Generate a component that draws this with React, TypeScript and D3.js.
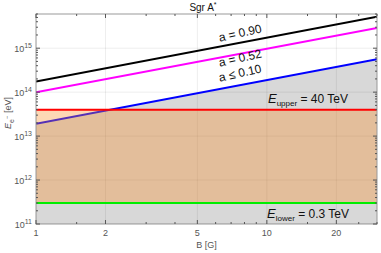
import React from "react";
import * as d3 from "d3";

// B field range [G]
const bField = [1, 30];

// max electron energies [eV] for the spin values
const eA090 = [1.75e14, 5.2e15];
const eA052 = [1.0e14, 2.9e15];
const eA010 = [1.9e13, 5.6e14];

// energy limits [eV]
const eUpper = 4e13;
const eLower = 3e11;

const xMajor = [1, 2, 5, 10, 20];
const xMinor = [1.5, 3, 4, 6, 7, 8, 9, 15, 25, 30];
const yMajor = [1e11, 1e12, 1e13, 1e14, 1e15];

const W = 381;
const H = 253;
const m = { left: 36, right: 4, top: 14, bottom: 29 };

export default function App() {
  const x = d3.scaleLog().domain([1, 30]).range([m.left, W - m.right]);
  const y = d3.scaleLog().domain([1e11, 6e15]).range([H - m.bottom, m.top]);

  const [x0, x1] = x.range();
  const [yb, yt] = y.range();

  const line = d3
    .line<number>()
    .x((d, i) => x(bField[i]))
    .y((d) => y(d));

  // grey area below the a<=0.10 curve
  const grey = d3
    .area<number>()
    .x((d, i) => x(bField[i]))
    .y0(yb)
    .y1((d) => y(d));

  // minor log ticks on y
  const yMinor: number[] = [];
  for (let k = 11; k <= 15; k++) {
    for (let j = 2; j <= 9; j++) {
      const v = j * Math.pow(10, k);
      if (v <= 6e15) yMinor.push(v);
    }
  }

  const font = "'Liberation Sans', Arial, sans-serif";
  const tickCol = "#555";

  return (
    <svg
      width={W}
      height={H}
      style={{ position: "absolute", left: 0, top: 0, background: "#fff" }}
      fontFamily={font}
    >
      <defs>
        <clipPath id="plot">
          <rect x={x0} y={yt} width={x1 - x0} height={yb - yt} />
        </clipPath>
      </defs>

      <g clipPath="url(#plot)">
        <path d={grey(eA010) || ""} fill="#d8d8d8" />

        {/* grid */}
        {xMajor.map((v) => (
          <line key={"gx" + v} x1={x(v)} x2={x(v)} y1={yt} y2={yb} stroke="#000" strokeOpacity={0.07} />
        ))}
        {yMajor.map((v) => (
          <line key={"gy" + v} x1={x0} x2={x1} y1={y(v)} y2={y(v)} stroke="#000" strokeOpacity={0.07} />
        ))}

        <path d={line(eA090) || ""} fill="none" stroke="#000" strokeWidth={2} />
        <path d={line(eA052) || ""} fill="none" stroke="#ff00ff" strokeWidth={2} />
        <path d={line(eA010) || ""} fill="none" stroke="#0000ff" strokeWidth={2} />

        {/* allowed band between the energy limits */}
        <rect
          x={x0}
          y={y(eUpper)}
          width={x1 - x0}
          height={y(eLower) - y(eUpper)}
          fill="rgb(249,140,37)"
          fillOpacity={0.34}
        />

        <line x1={x0} x2={x1} y1={y(eUpper)} y2={y(eUpper)} stroke="#ff0000" strokeWidth={2} />
        <line x1={x0} x2={x1} y1={y(eLower)} y2={y(eLower)} stroke="#00ee00" strokeWidth={2} />
      </g>

      {/* frame */}
      <rect x={x0} y={yt} width={x1 - x0} height={yb - yt} fill="none" stroke="#999" strokeWidth={1} />

      {/* x ticks bottom and top */}
      {xMajor.map((v) => (
        <g key={"xt" + v}>
          <line x1={x(v)} x2={x(v)} y1={yb} y2={yb - 4} stroke={tickCol} />
          <line x1={x(v)} x2={x(v)} y1={yt} y2={yt + 4} stroke={tickCol} />
          <text x={x(v)} y={yb + 12} fontSize={9} fill={tickCol} textAnchor="middle">
            {v}
          </text>
        </g>
      ))}
      {xMinor.map((v) => (
        <g key={"xm" + v}>
          <line x1={x(v)} x2={x(v)} y1={yb} y2={yb - 2} stroke={tickCol} />
          <line x1={x(v)} x2={x(v)} y1={yt} y2={yt + 2} stroke={tickCol} />
        </g>
      ))}

      {/* y ticks left and right */}
      {yMajor.map((v) => {
        const k = Math.round(Math.log10(v));
        return (
          <g key={"yt" + v}>
            <line x1={x0} x2={x0 + 4} y1={y(v)} y2={y(v)} stroke={tickCol} />
            <line x1={x1} x2={x1 - 4} y1={y(v)} y2={y(v)} stroke={tickCol} />
            <text x={x0 - 4} y={y(v) + 3.5} fontSize={9} fill={tickCol} textAnchor="end">
              10
              <tspan fontSize={7} dy={-4}>
                {k}
              </tspan>
            </text>
          </g>
        );
      })}
      {yMinor.map((v) => (
        <g key={"ym" + v}>
          <line x1={x0} x2={x0 + 2} y1={y(v)} y2={y(v)} stroke={tickCol} />
          <line x1={x1} x2={x1 - 2} y1={y(v)} y2={y(v)} stroke={tickCol} />
        </g>
      ))}

      {/* titles */}
      <text x={203} y={11} fontSize={10} textAnchor="middle" fill="#111">
        Sgr A
        <tspan fontSize={7} dy={-4}>
          *
        </tspan>
      </text>
      <text x={(x0 + x1) / 2} y={248} fontSize={9} textAnchor="middle" fill={tickCol}>
        B [G]
      </text>
      <text transform="translate(11,113) rotate(-90)" fontSize={9} textAnchor="middle" fill={tickCol}>
        <tspan fontStyle="italic">E</tspan>
        <tspan fontSize={7} dy={3}>
          e
        </tspan>
        <tspan fontSize={6} dy={-5}>
          −
        </tspan>
        <tspan dy={2}> [eV]</tspan>
      </text>

      {/* curve labels */}
      <text transform="translate(241,37) rotate(-12.5)" fontSize={12} textAnchor="middle" fill="#111">
        a = 0.90
      </text>
      <text transform="translate(241,62) rotate(-12.5)" fontSize={12} textAnchor="middle" fill="#111">
        a = 0.52
      </text>
      <text transform="translate(241,77) rotate(-12.5)" fontSize={12} textAnchor="middle" fill="#111">
        a ≤ 0.10
      </text>

      <text x={268} y={103} fontSize={12} fill="#111">
        <tspan fontStyle="italic" fontSize={13}>E</tspan>
        <tspan fontSize={8} dy={3}>
          upper
        </tspan>
        <tspan dy={-3}> = 40 TeV</tspan>
      </text>
      <text x={267} y={218} fontSize={12} fill="#111">
        <tspan fontStyle="italic" fontSize={13}>E</tspan>
        <tspan fontSize={8} dy={3}>
          lower
        </tspan>
        <tspan dy={-3}> = 0.3 TeV</tspan>
      </text>
    </svg>
  );
}
